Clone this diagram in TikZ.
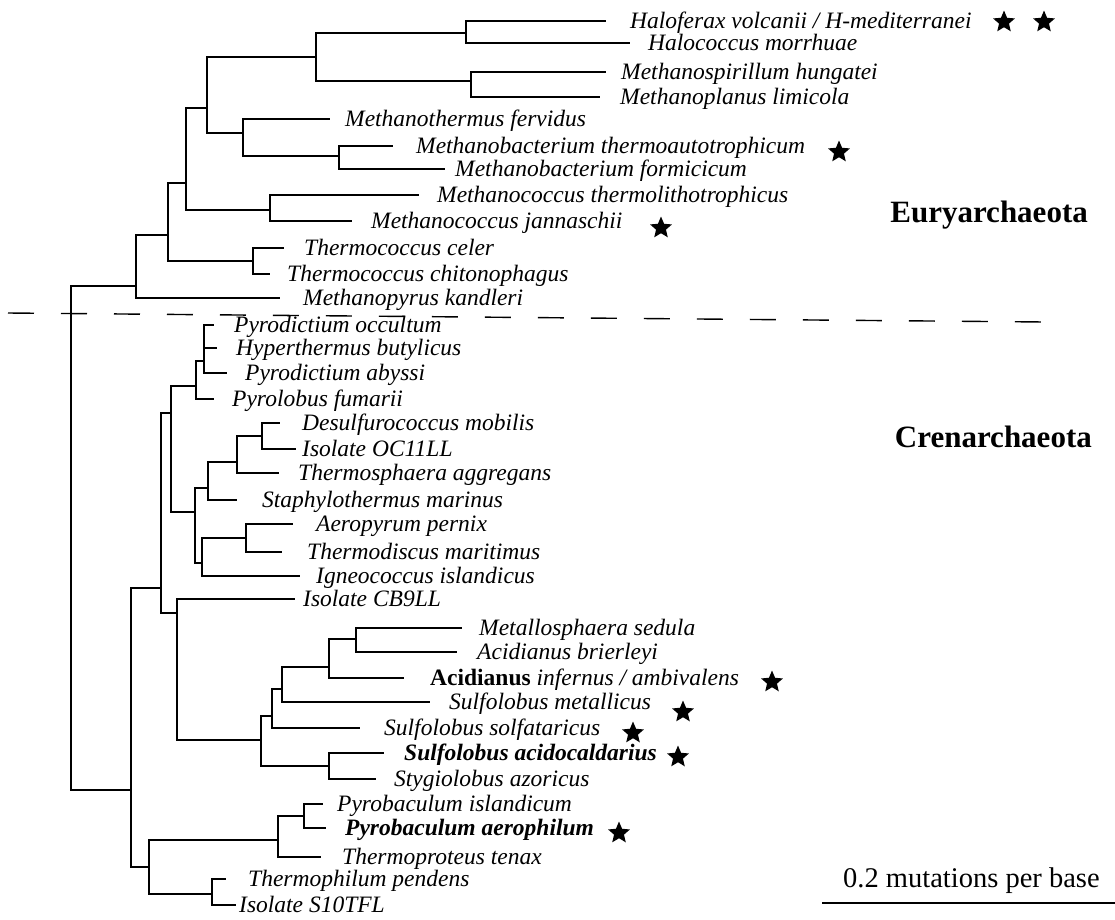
\documentclass[tikz,border=0pt]{standalone}
\usepackage{fontspec}
\setmainfont{Liberation Serif}
\usetikzlibrary{shapes.geometric}

\begin{document}
\begin{tikzpicture}[
    x=1pt, y=-1pt,
    branch/.style={line width=2pt},
    taxon/.style={anchor=base west, inner sep=0pt, yshift=-7pt, font=\fontsize{23.5}{26}\selectfont\itshape},
    phylum/.style={anchor=base east, inner sep=0pt, font=\fontsize{31}{34}\selectfont\bfseries},
    startag/.style={star, star points=5, star point ratio=2.2, fill=black, inner sep=0pt, minimum size=23pt}
]
    \useasboundingbox (0,0) rectangle (1115,919);

    % Leaves: name / tip x / y / label x / label
    \foreach \nm/\tx/\yy/\lx/\txt in {
        hvol/606/21/630/{Haloferax volcanii / H-mediterranei},
        hmor/630/43/648/{Halococcus morrhuae},
        mhun/606/72/621/{Methanospirillum hungatei},
        mlim/600/97/620/{Methanoplanus limicola},
        mfer/330/119/345/{Methanothermus fervidus},
        mthe/393/146/416/{Methanobacterium thermoautotrophicum},
        mfor/445/169/455/{Methanobacterium formicicum},
        mtli/419/195/437/{Methanococcus thermolithotrophicus},
        mjan/352/221/371/{Methanococcus jannaschii},
        tcel/284/248/304/{Thermococcus celer},
        tchi/270/274/287/{Thermococcus chitonophagus},
        mkan/280/298/303/{Methanopyrus kandleri},
        pocc/214/325/234/{Pyrodictium occultum},
        hbut/217/348/236/{Hyperthermus butylicus},
        paby/227/373/245/{Pyrodictium abyssi},
        pfum/214/399/232/{Pyrolobus fumarii},
        dmob/280/423/302/{Desulfurococcus mobilis},
        oc11/296/449/302/{Isolate OC11LL},
        tagg/279/473/298/{Thermosphaera aggregans},
        smar/237/500/262/{Staphylothermus marinus},
        aper/293/524/316/{Aeropyrum pernix},
        tmar/282/552/307/{Thermodiscus maritimus},
        iisl/300/576/316/{Igneococcus islandicus},
        cb9/295/599/303/{Isolate CB9LL},
        msed/462/628/479/{Metallosphaera sedula},
        abri/457/652/477/{Acidianus brierleyi},
        ainf/404/678/430/{\textbf{\upshape Acidianus} infernus / ambivalens},
        smet/430/702/449/{Sulfolobus metallicus},
        ssol/360/728/384/{Sulfolobus solfataricus},
        saci/384/753/404/{\textbf{Sulfolobus acidocaldarius}},
        sazo/376/779/394/{Stygiolobus azoricus},
        pisl/323/804/337/{Pyrobaculum islandicum},
        paer/326/828/345/{\textbf{Pyrobaculum aerophilum}},
        tten/321/857/342/{Thermoproteus tenax},
        tpen/226/879/248/{Thermophilum pendens},
        s10/236/905/239/{Isolate S10TFL}} {
        \coordinate (\nm) at (\tx,\yy);
        \node[taxon] (\nm-lab) at (\lx,\yy) {\txt};
    }

    % Internal nodes: name / x / y where it joins its parent
    \foreach \nm/\xx/\yy in {
        hal1/466/33, hal2/471/81, hal/316/57, mbac/339/156, mth/243/133,
        hm/207/108, mcoc/270/210, hmm/186/183, tcoc/253/261, eur1/168/235,
        eury/136/286,
        pyd/204/361, pyr/196/386, des/262/436, tsph/237/462, stap/208/488,
        aero/246/538, igne/202/563, desg/195/512, crn1/171/413,
        met/356/639, aci/329/667, sul1/282/689, sul2/272/716, sac/329/766,
        sulf/261/740, cb/177/613, crn2/161/588,
        pba/304/816, ptx/278/840, tph/212/894, thp/149/867,
        cren/131/790, root/71/540} {
        \coordinate (\nm) at (\xx,\yy);
    }

    % Branches
    \foreach \p/\c in {
        hal1/hvol, hal1/hmor, hal2/mhun, hal2/mlim, hal/hal1, hal/hal2,
        mbac/mthe, mbac/mfor, mth/mfer, mth/mbac, hm/hal, hm/mth,
        mcoc/mtli, mcoc/mjan, hmm/hm, hmm/mcoc, tcoc/tcel, tcoc/tchi,
        eur1/hmm, eur1/tcoc, eury/eur1, eury/mkan,
        pyd/pocc, pyd/hbut, pyd/paby, pyr/pyd, pyr/pfum,
        des/dmob, des/oc11, tsph/des, tsph/tagg, stap/tsph, stap/smar,
        aero/aper, aero/tmar, igne/aero, igne/iisl, desg/stap, desg/igne,
        crn1/pyr, crn1/desg,
        met/msed, met/abri, aci/met, aci/ainf, sul1/aci, sul1/smet,
        sul2/sul1, sul2/ssol, sac/saci, sac/sazo, sulf/sul2, sulf/sac,
        cb/cb9, cb/sulf, crn2/crn1, crn2/cb,
        pba/pisl, pba/paer, ptx/pba, ptx/tten, tph/tpen, tph/s10,
        thp/ptx, thp/tph, cren/crn2, cren/thp,
        root/eury, root/cren} {
        \draw[branch] (\p) |- (\c);
    }

    % Stars
    \node[startag] (st1) at (1004,22) {};
    \node[startag] (st2) at (1044,22) {};
    \node[startag] (st3) at (839,152) {};
    \node[startag] (st4) at (661,228) {};
    \node[startag] (st5) at (772,682) {};
    \node[startag] (st6) at (683,712) {};
    \node[startag] (st7) at (633,733) {};
    \node[startag] (st8) at (678,757) {};
    \node[startag] (st9) at (619,833) {};

    % Divider between the two kingdoms
    \coordinate (divL) at (8,313);
    \coordinate (divR) at (1045,322);
    \draw[line width=1.4pt, dash pattern=on 26pt off 27pt] (divL) -- (divR);

    \node[phylum] (eur-lab) at (1088,222) {Euryarchaeota};
    \node[phylum] (cren-lab) at (1092,447) {Crenarchaeota};

    % Scale bar
    \coordinate (barL) at (822,903);
    \coordinate (barR) at (1115,903);
    \draw[branch] (barL) -- (barR);
    \node[anchor=base west, inner sep=0pt, font=\fontsize{28.5}{31}\selectfont] (scale) at (843,887) {0.2 mutations per base};
\end{tikzpicture}
\end{document}
